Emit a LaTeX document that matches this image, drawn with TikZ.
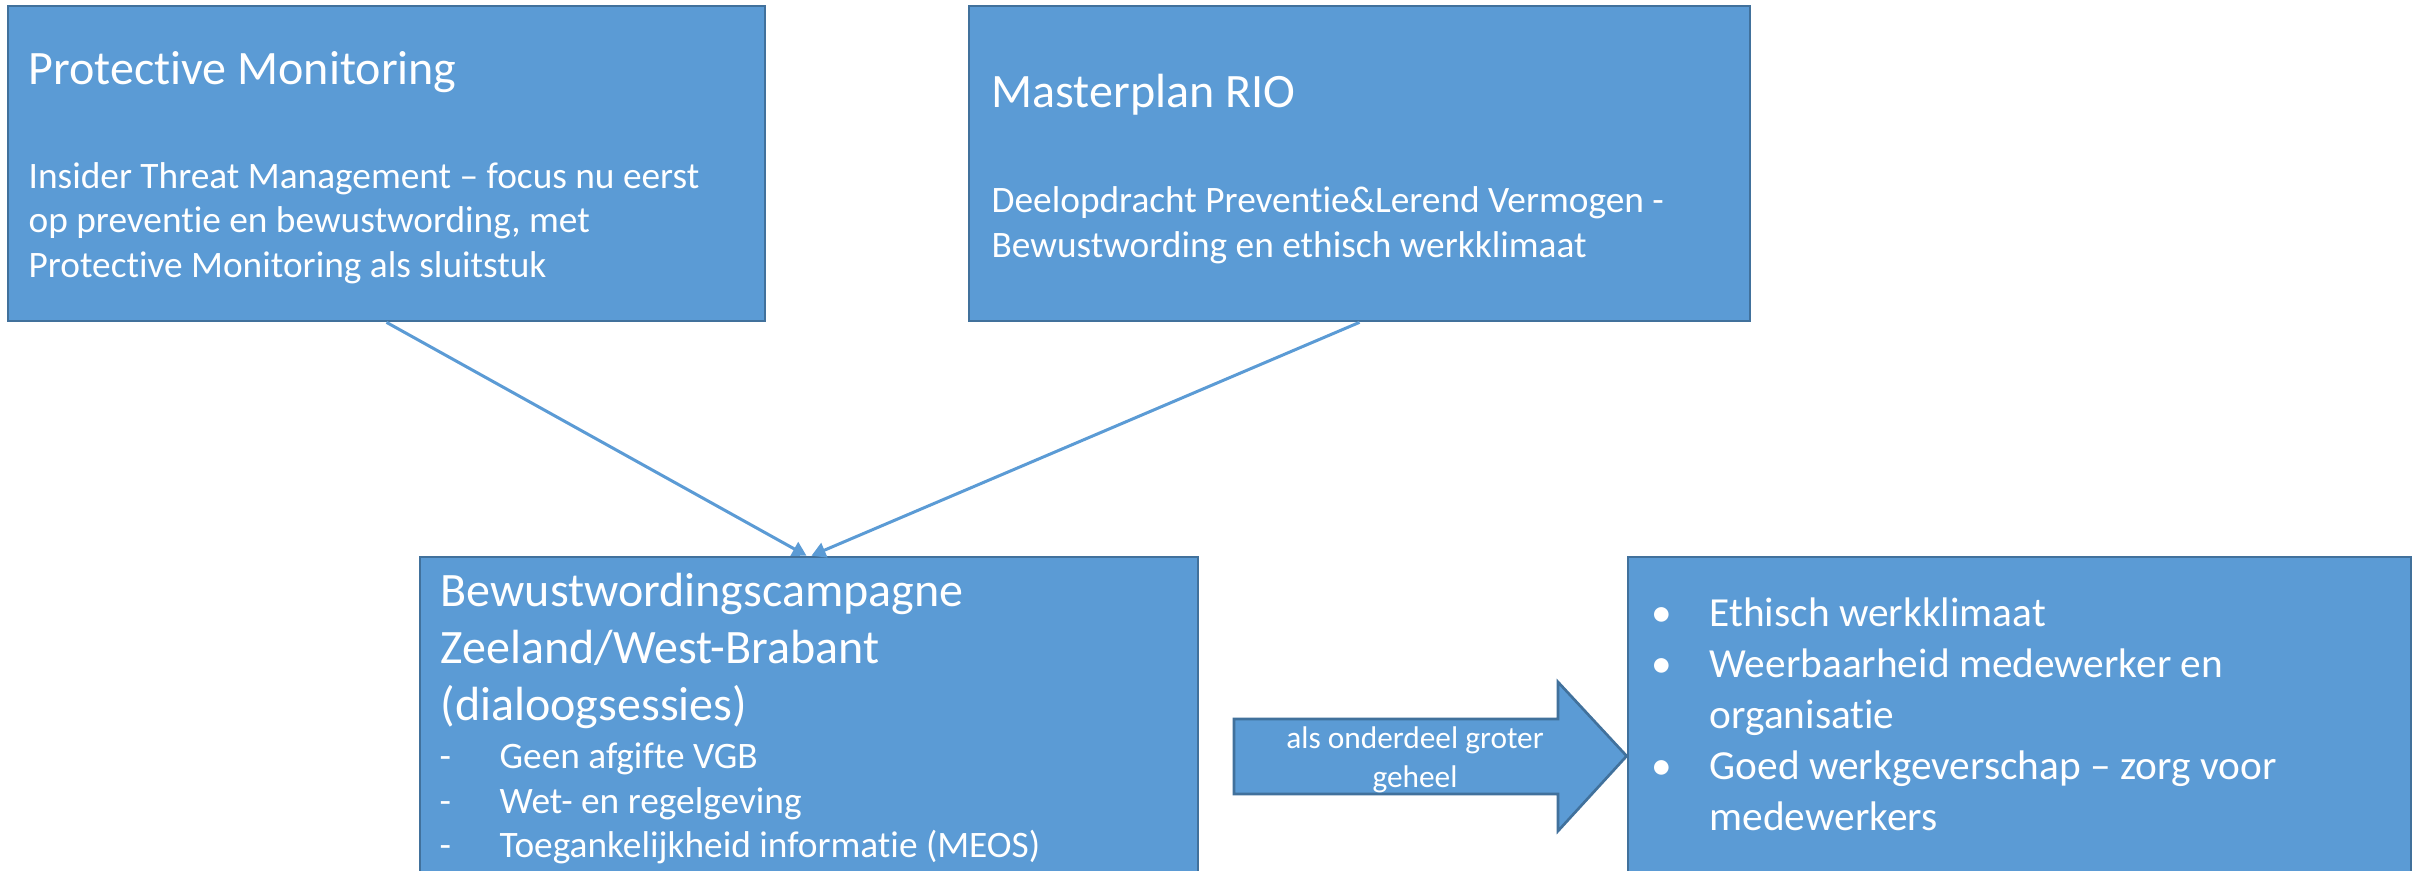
\documentclass[tikz,border=0pt]{standalone}
\usepackage{fontspec}
\setmainfont{Carlito}[Ligatures=NoCommon]
\usetikzlibrary{arrows.meta,calc,fit}

\definecolor{boxfill}{HTML}{5B9BD5}
\definecolor{boxline}{HTML}{41719C}

\tikzset{
  box/.style={draw=boxline, line width=0.8pt, fill=boxfill, inner sep=0pt, rectangle},
  conn/.style={draw=boxfill, line width=0.9pt, -{Triangle[length=4.2pt,width=4.6pt]}},
  txt/.style={anchor=base west, inner sep=0pt, text=white},
  titletxt/.style={txt, font=\fontsize{14.4pt}{17pt}\selectfont},
  bodytxt/.style={txt, font=\fontsize{11.2pt}{13pt}\selectfont},
  goaltxt/.style={txt, font=\fontsize{12.4pt}{15pt}\selectfont},
  smalltxt/.style={anchor=base, inner sep=0pt, text=white, font=\fontsize{9.4pt}{11pt}\selectfont}
}

\begin{document}
\begin{tikzpicture}[x=0.3pt, y=-0.3pt]
\clip (0,0) rectangle (2417,870);
\fill[white] (0,0) rectangle (2417,870);

% boxes
\node[box, fit={(8,6) (765,321)}] (b1) {};
\node[box, fit={(969,6) (1750,321)}] (b2) {};
\node[box, fit={(420,557) (1198,900)}] (b3) {};
\node[box, fit={(1628,557) (2411,900)}] (b4) {};

% connectors into the campaign box
\draw[conn] (b1.south) -- ($(b3.north)+(-2.5,0)$);
\draw[conn] (b2.south) -- ($(b3.north)+(2.5,0)$);

% block arrow between the lower boxes
\draw[draw=boxline, line width=0.8pt, fill=boxfill]
  (1234,719) -- (1558,719) -- (1558,682) -- (b4.west |- 0,756) -- (1558,831) -- (1558,794) -- (1234,794) -- cycle;
\node[smalltxt] (a1) at (1415,748) {als onderdeel groter};
\node[smalltxt] (a2) at (1415,787) {geheel};

% Protective Monitoring
\node[titletxt] (t1) at (28,84) {Protective Monitoring};
\node[bodytxt] (t1a) at (28,188) {Insider Threat Management – focus nu eerst};
\node[bodytxt] (t1b) at (28,232) {op preventie en bewustwording, met};
\node[bodytxt] (t1c) at (28,277) {Protective Monitoring als sluitstuk};

% Masterplan RIO
\node[titletxt] (t2) at (991,107) {Masterplan RIO};
\node[bodytxt] (t2a) at (991,212) {Deelopdracht Preventie\&Lerend Vermogen -};
\node[bodytxt] (t2b) at (991,257) {Bewustwording en ethisch werkklimaat};

% campaign
\node[titletxt] (t3) at (440,606) {Bewustwordingscampagne};
\node[titletxt] (t3a) at (440,663) {Zeeland/West-Brabant};
\node[titletxt] (t3b) at (440,720) {(dialoogsessies)};
\node[bodytxt] (d1) at (439,768) {-};
\node[bodytxt] (i1) at (499,768) {Geen afgifte VGB};
\node[bodytxt] (d2) at (439,813) {-};
\node[bodytxt] (i2) at (499,813) {Wet- en regelgeving};
\node[bodytxt] (d3) at (439,857) {-};
\node[bodytxt] (i3) at (499,857) {Toegankelijkheid informatie (MEOS)};

% goals
\node[goaltxt] (p1) at (1651,626) {•};
\node[goaltxt] (g1) at (1709,626) {Ethisch werkklimaat};
\node[goaltxt] (p2) at (1651,677) {•};
\node[goaltxt] (g2) at (1709,677) {Weerbaarheid medewerker en};
\node[goaltxt] (g2b) at (1709,728) {organisatie};
\node[goaltxt] (p3) at (1651,779) {•};
\node[goaltxt] (g3) at (1709,779) {Goed werkgeverschap – zorg voor};
\node[goaltxt] (g3b) at (1709,830) {medewerkers};
\end{tikzpicture}
\end{document}
